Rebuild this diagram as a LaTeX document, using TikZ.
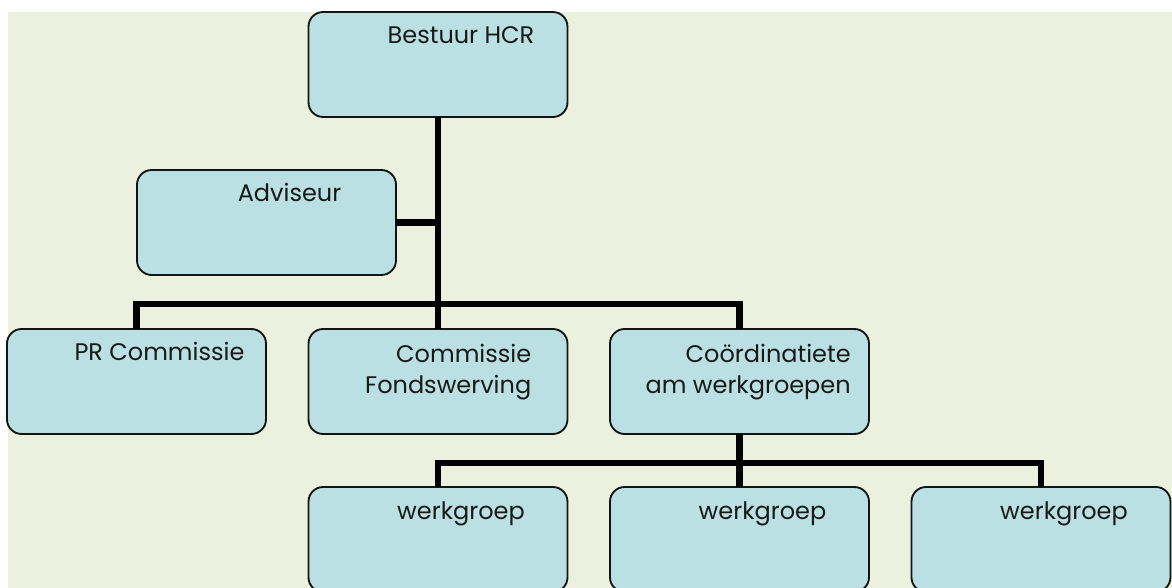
\documentclass[tikz,border=0pt]{standalone}
\usepackage{fontspec}
\setmainfont{Poppins}
\usetikzlibrary{positioning}
\definecolor{bggreen}{RGB}{235,241,222}
\definecolor{boxblue}{RGB}{186,224,228}
\definecolor{edgegray}{RGB}{20,20,20}
\tikzset{
    unit/.style={
        draw=edgegray,
        fill=boxblue,
        line width=1.4pt,
        rectangle,
        rounded corners=11pt,
        minimum width=194.25pt,
        minimum height=78.75pt,
        inner sep=0pt,
        outer sep=0pt,
    },
    caption/.style={
        anchor=base,
        inner sep=0pt,
        font=\fontsize{18}{24}\selectfont,
        text=black!90,
    },
    link/.style={
        line width=4.8pt,
        black,
    }
}

\begin{document}
\begin{tikzpicture}[node distance=39.75pt and 31.875pt]
   \path[use as bounding box] (-328.5pt,48.375pt) rectangle (550.5pt,-392.625pt);
   \clip (-328.5pt,48.375pt) rectangle (550.5pt,-392.625pt);
   \fill[bggreen] (-322.5pt,39.375pt) rectangle (550.5pt,-392.625pt);

   \node[unit] (bestuur) at (0,0) {};
   \node[unit, below=39.75pt of bestuur.south west, xshift=-31.5pt] (adviseur) {};
   \node[unit, below=159pt of bestuur] (fonds) {};
   \node[unit, left=of fonds] (pr) {};
   \node[unit, right=of fonds] (coord) {};
   \node[unit, below=of coord] (wg2) {};
   \node[unit, left=of wg2] (wg1) {};
   \node[unit, right=of wg2] (wg3) {};

   \node[caption] (bestuur-t) at ([xshift=17.25pt,yshift=-24pt]bestuur.north) {Bestuur HCR};
   \node[caption] (adviseur-t) at ([xshift=17.25pt,yshift=-24pt]adviseur.north) {Adviseur};
   \node[caption] (pr-t) at ([xshift=17.25pt,yshift=-24pt]pr.north) {PR Commissie};
   \node[caption, align=right, anchor=base east] (fonds-t) at ([xshift=-27pt,yshift=-48.75pt]fonds.north east) {Commissie\\Fondswerving};
   \node[caption, align=right, anchor=base east] (coord-t) at ([xshift=-13.5pt,yshift=-48.75pt]coord.north east) {Coördinatiete\\am werkgroepen};
   \node[caption] (wg1-t) at ([xshift=17.25pt,yshift=-24pt]wg1.north) {werkgroep};
   \node[caption] (wg2-t) at ([xshift=17.25pt,yshift=-24pt]wg2.north) {werkgroep};
   \node[caption] (wg3-t) at ([xshift=17.25pt,yshift=-24pt]wg3.north) {werkgroep};

   \draw[link] (bestuur.south) to (fonds.north);
   \draw[link] (adviseur.east) to (adviseur.east -| bestuur.south);
   \draw[link] (pr.north) |- ([yshift=18.75pt]fonds.north) -| (coord.north);
   \draw[link] (coord.south) to (wg2.north);
   \draw[link] (wg1.north) |- ([yshift=18pt]wg2.north) -| (wg3.north);
\end{tikzpicture}
\end{document}
